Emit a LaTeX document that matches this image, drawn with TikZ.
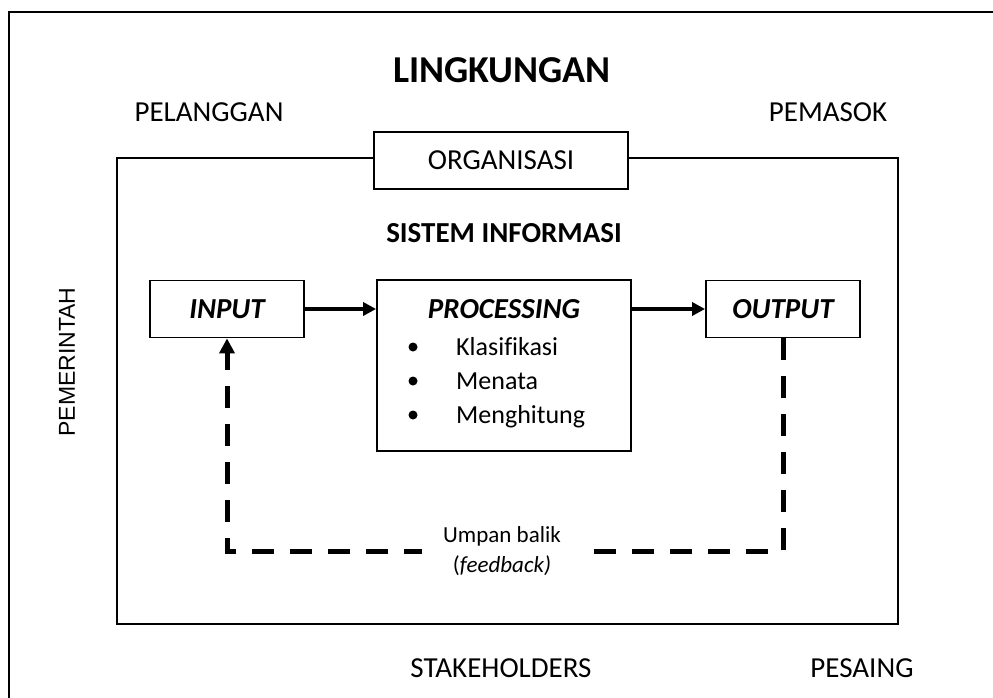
\documentclass[tikz,border=0pt]{standalone}
\usepackage{fontspec}
\setmainfont{Carlito}[Ligatures=NoCommon]
\newfontfamily\arialfont{Liberation Sans}
\usetikzlibrary{arrows.meta}
\begin{document}
\begin{tikzpicture}[x=1pt,y=-1pt,
  box/.style={draw, line width=1.8pt, inner sep=0pt},
  lbl/.style={font=\fontsize{29}{34}\selectfont, anchor=base, inner sep=0pt},
  head/.style={font=\fontsize{29}{34}\selectfont\bfseries, anchor=base, inner sep=0pt},
  stage/.style={box, minimum width=154pt, minimum height=57pt,
                font=\fontsize{29}{34}\selectfont\bfseries\itshape},
  item/.style={font=\fontsize{26}{30}\selectfont, anchor=base west, inner sep=0pt},
  dot/.style={circle, fill, inner sep=0pt, minimum size=9pt},
  flow/.style={line width=4pt, -{Triangle[length=13pt,width=13pt]}},
  fb/.style={line width=5pt, dash pattern=on 22pt off 16pt,
             -{Triangle[length=15pt,width=15pt]}}
]
\useasboundingbox (0,0) rectangle (993,698);

% environment frame, open to the right and bottom
\coordinate (ftl) at (9,12);
\coordinate (ftr) at (993,12);
\coordinate (fbl) at (9,698);
\draw[line width=2.2pt] (ftr) -- (ftl) -- (fbl);

% environment labels
\node[lbl, font=\fontsize{38}{44}\selectfont\bfseries] (env) at (502,83) {LINGKUNGAN};
\node[lbl] (pelanggan) at (209,122) {PELANGGAN};
\node[lbl] (pemasok) at (828,122) {PEMASOK};
\node[lbl] (stake) at (501,677) {STAKEHOLDERS};
\node[lbl] (pesaing) at (862,677) {PESAING};
\node[rotate=90, inner sep=0pt, font=\arialfont\fontsize{23}{28}\selectfont] (pemerintah) at (67,362) {PEMERINTAH};

% organisation
\draw[line width=1.8pt] (117,158) rectangle (898,624);
\node[box, fill=white, minimum width=254pt, minimum height=57pt,
      font=\fontsize{29}{34}\selectfont] (org) at (501,160.5) {ORGANISASI};
\node[head] (si) at (504,242) {SISTEM INFORMASI};

% information system stages
\node[stage] (input) at (227,309) {INPUT};
\node[box, minimum width=254pt, minimum height=171pt] (proc) at (504,365.5) {};
\node[stage] (output) at (783,309) {OUTPUT};

\node[head, font=\fontsize{29}{34}\selectfont\bfseries\itshape] (ptitle) at (504,318) {PROCESSING};
\node[dot] (b1) at (413,347) {};
\node[dot] (b2) at (413,381) {};
\node[dot] (b3) at (413,415) {};
\node[item] (i1) at (456,355) {Klasifikasi};
\node[item] (i2) at (456,389) {Menata};
\node[item] (i3) at (456,423) {Menghitung};

% flow
\draw[flow] (input.east) -- (input.east -| proc.west);
\draw[flow] (output.west -| proc.east) -- (output.west);

% feedback loop
\coordinate (fbr) at (783,551);
\draw[fb] (output.south) -- (fbr) -| (input.south);
\node[fill=white, inner xsep=21pt, inner ysep=0pt, align=center,
      font=\fontsize{23}{30}\selectfont] (fblabel) at (502,551)
      {Umpan balik\\(\textit{feedback)}};
\end{tikzpicture}
\end{document}
